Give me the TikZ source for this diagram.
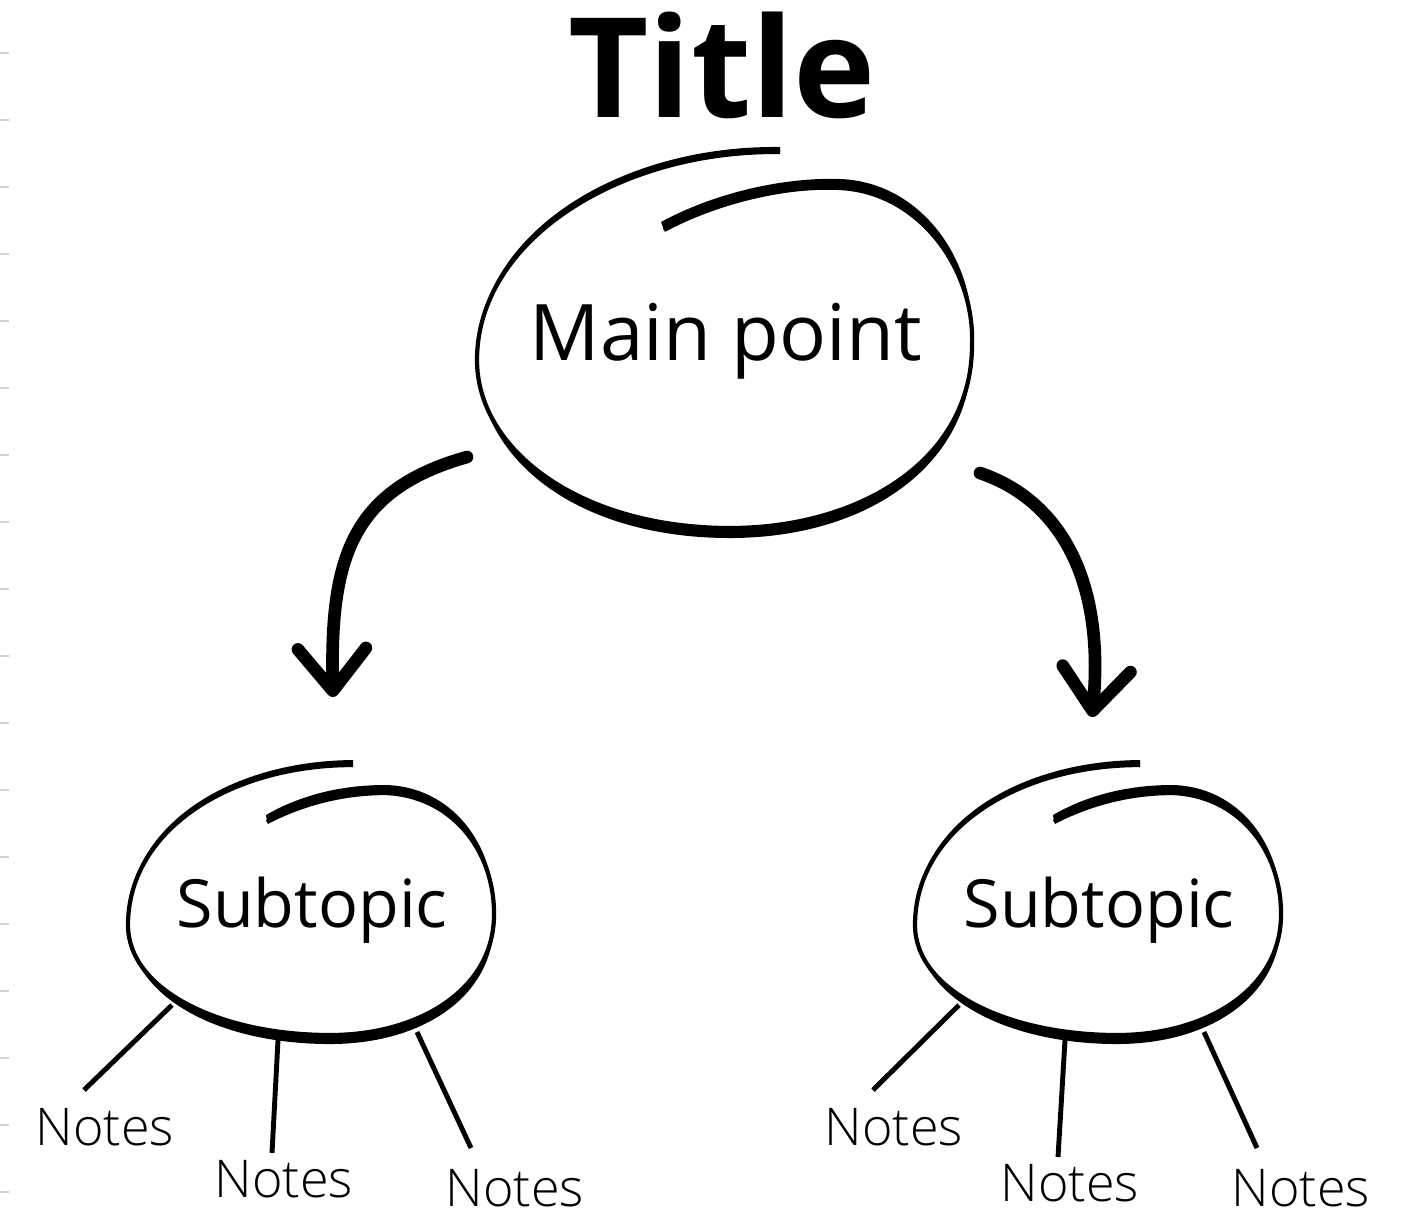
\documentclass[tikz,border=0pt]{standalone}
\usepackage{fontspec}
\setmainfont{Open Sans}
\newfontfamily\notefont{Open Sans Light}
\usetikzlibrary{arrows.meta}

\tikzset{
  every node/.style={inner sep=0pt, anchor=base},
  oval/.style={line width=1.2pt},
  bigarrow/.style={line width=3.6pt, line cap=round,
    -{Straight Barb[round,length=4.2mm,width=6.8mm]}},
  noteline/.style={line width=1.4pt},
  tick/.style={gray!35, line width=0.6pt},
  titletext/.style={font=\fontsize{39.5}{44}\selectfont\bfseries},
  maintext/.style={font=\fontsize{22.2}{27}\selectfont},
  subtext/.style={font=\fontsize{18.9}{22}\selectfont},
  notetext/.style={font=\fontsize{14.8}{18}\notefont},
}

\begin{document}
\begin{tikzpicture}[x=0.01cm, y=-0.01cm]
\useasboundingbox (0,0) rectangle (1407,1214);
% ruler marks at the left edge
\foreach \k in {0,...,17}
  \draw[tick] (0,{53+67*\k}) -- (9,{53+67*\k});

\node[titletext] (title) at (722,117) {Title};
\node[maintext] (main) at (726,360) {Main point};
\node[subtext] (sub1) at (312,927) {Subtopic};
\node[subtext] (sub2) at (1099,927) {Subtopic};
\node[notetext] (n11) at (105,1145) {Notes};
\node[notetext] (n12) at (284,1197) {Notes};
\node[notetext] (n13) at (515,1206) {Notes};
\node[notetext] (n21) at (894,1145) {Notes};
\node[notetext] (n22) at (1070,1201) {Notes};
\node[notetext] (n23) at (1301,1206) {Notes};

% sketched ring round the main point
\draw[oval] (664,230) .. controls (720,200) and (790,185) .. (840,188)
  .. controls (920,192) and (975,270) .. (972,345)
  .. controls (972,460) and (860,528) .. (730,528)
  .. controls (580,528) and (477,450) .. (477,360)
  .. controls (477,240) and (620,150) .. (780,152);
\fill (664,230) .. controls (720,200) and (790,185) .. (840,188)
  .. controls (920,192) and (975,270) .. (972,345)
  .. controls (978,262) and (922,182) .. (840,179)
  .. controls (786,177) and (716,192) .. (661,222) -- cycle;
\fill (972,345) .. controls (972,460) and (860,528) .. (730,528)
  .. controls (580,528) and (477,450) .. (477,360)
  .. controls (479,462) and (580,538) .. (730,538)
  .. controls (868,538) and (976,464) .. (972,345) -- cycle;
\fill (477,360) .. controls (477,240) and (620,150) .. (780,152)
  -- (780,147) .. controls (615,145) and (474,238) .. (477,360) -- cycle;

% sketched rings round the subtopics
\foreach \s in {sub1,sub2} {
  \begin{scope}[shift={(\s.base)}]
    \draw[oval] (-45,-105) .. controls (-12,-122) and (28,-134) .. (73,-134)
      .. controls (138,-132) and (183,-78) .. (182,-11)
      .. controls (181,62) and (108,108) .. (18,108)
      .. controls (-92,108) and (-184,63) .. (-184,-2)
      .. controls (-184,-97) and (-82,-162) .. (41,-162);
    \fill (-45,-105) .. controls (-12,-122) and (28,-134) .. (73,-134)
      .. controls (138,-132) and (183,-78) .. (182,-11)
      .. controls (185,-84) and (138,-141) .. (73,-142)
      .. controls (25,-142) and (-15,-130) .. (-46,-112) -- cycle;
    \fill (182,-11) .. controls (181,62) and (108,108) .. (18,108)
      .. controls (-92,108) and (-184,63) .. (-184,-2)
      .. controls (-182,71) and (-92,117) .. (18,117)
      .. controls (112,117) and (185,68) .. (182,-11) -- cycle;
    \fill (-184,-2) .. controls (-184,-97) and (-82,-162) .. (41,-162)
      -- (41,-167) .. controls (-86,-166) and (-187,-98) .. (-184,-2) -- cycle;
  \end{scope}
}

% arrows down to the subtopics
\draw[bigarrow] ([shift={(-259,97)}]main.base) .. controls +(-117,33) and +(-3,-137) .. ([shift={(21,-230)}]sub1.base);
\draw[bigarrow] ([shift={(254,113)}]main.base) .. controls +(80,27) and +(13,-137) .. ([shift={(-7,-210)}]sub2.base);

% strokes out to the notes
\foreach \s/\a/\b/\c in {sub1/n11/n12/n13, sub2/n21/n22/n23} {
  \draw[noteline] ([shift={(-140,78)}]\s.base) -- ([shift={(-21,-55)}]\a.base);
  \draw[noteline] ([shift={(-34,113)}]\s.base) -- ([shift={(-12,-44)}]\b.base);
  \draw[noteline] ([shift={(105,105)}]\s.base) -- ([shift={(-44,-58)}]\c.base);
}
\end{tikzpicture}
\end{document}
